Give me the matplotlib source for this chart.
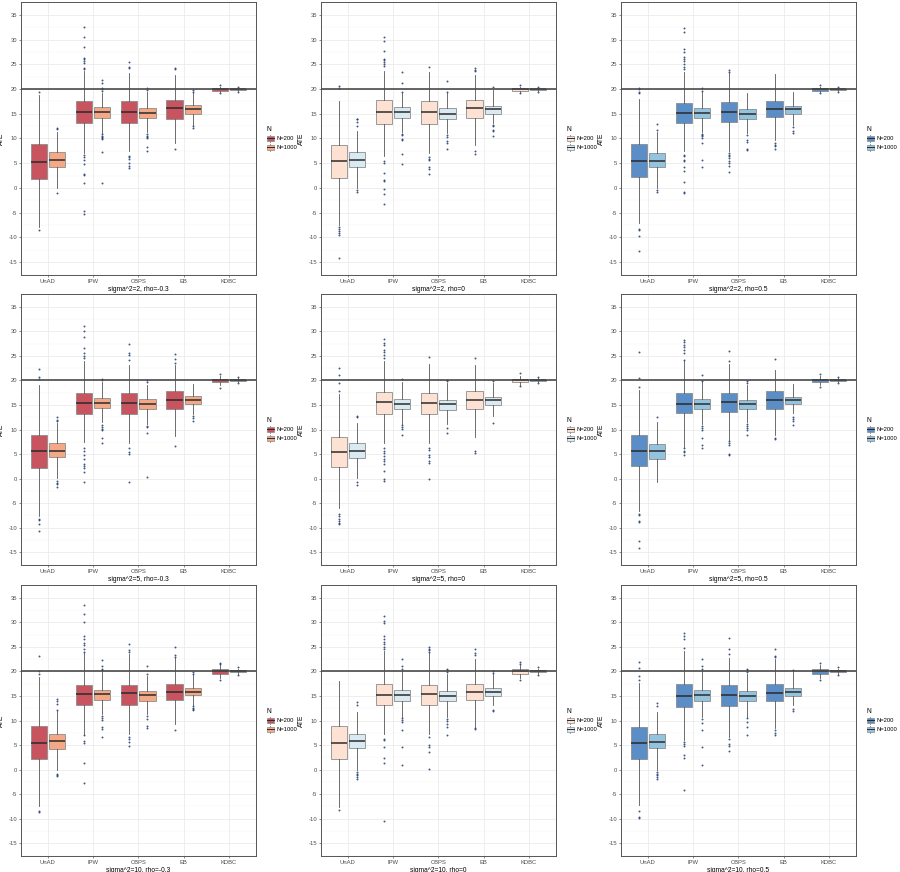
import matplotlib
matplotlib.use("Agg")
import matplotlib.pyplot as plt
from matplotlib.legend_handler import HandlerBase
from matplotlib.patches import Rectangle
from matplotlib.lines import Line2D

plt.rcParams['font.family'] = ['Liberation Sans', 'DejaVu Sans']
plt.rcParams['axes.unicode_minus'] = False

METHODS = ["UnAD", "IPW", "CBPS", "EB", "KDBC"]
GROUPS = ["N=200", "N=1000"]
TITLES = ["sigma^2=2, rho=-0.3", "sigma^2=2, rho=0", "sigma^2=2, rho=0.5",
          "sigma^2=5, rho=-0.3", "sigma^2=5, rho=0", "sigma^2=5, rho=0.5",
          "sigma^2=10, rho=-0.3", "sigma^2=10, rho=0", "sigma^2=10, rho=0.5"]
Y_TICKS = [-15, -10, -5, 0, 5, 10, 15, 20, 25, 30, 35]
TRUE_ATE = 20

# ---- N=200 box statistics, [panel][method] ----
Q1_200 = [[1.85, 13.2, 13.2, 14.0, 19.7], [2.1, 13.0, 13.0, 14.1, 19.7], [2.3, 13.2, 13.3, 14.3, 19.7],
          [2.1, 13.2, 13.2, 14.2, 19.75], [2.4, 13.1, 13.1, 14.1, 19.75], [2.6, 13.3, 13.5, 14.2, 19.7],
          [2.1, 13.2, 13.2, 14.2, 19.5], [2.1, 13.2, 13.2, 14.2, 19.5], [2.2, 12.8, 13.0, 13.9, 19.5]]
MED_200 = [[5.2, 15.3, 15.3, 16.1, 19.95], [5.35, 15.3, 15.3, 16.1, 19.95], [5.5, 15.2, 15.4, 15.9, 19.95],
           [5.65, 15.3, 15.3, 16.0, 20.0], [5.4, 15.5, 15.4, 16.1, 20.0], [5.7, 15.2, 15.5, 16.1, 20.0],
           [5.5, 15.4, 15.5, 15.9, 20.0], [5.5, 15.2, 15.3, 15.9, 20.0], [5.5, 14.9, 15.1, 15.7, 20.0]]
Q3_200 = [[8.8, 17.5, 17.5, 17.8, 20.2], [8.7, 17.7, 17.5, 17.75, 20.2], [8.9, 17.15, 17.3, 17.5, 20.2],
          [8.9, 17.5, 17.5, 17.8, 20.3], [8.5, 17.7, 17.5, 17.8, 20.3], [8.8, 17.4, 17.5, 17.8, 20.3],
          [8.9, 17.3, 17.3, 17.5, 20.4], [8.9, 17.4, 17.3, 17.5, 20.4], [8.6, 17.4, 17.2, 17.5, 20.4]]
LO_200 = [[-7.8, 7.0, 7.4, 9.0, 19.4], [-7.5, 6.4, 7.0, 8.6, 19.4], [-7.1, 7.4, 7.4, 9.7, 19.4],
          [-7.6, 7.5, 7.2, 8.6, 19.0], [-5.9, 7.2, 7.2, 8.4, 19.0], [-6.6, 6.5, 7.9, 8.9, 19.0],
          [-7.5, 7.3, 7.3, 9.3, 18.7], [-7.6, 7.2, 7.2, 8.7, 18.7], [-7.2, 6.0, 6.6, 8.5, 18.7]]
HI_200 = [[18.8, 23.7, 23.3, 22.9, 20.5], [17.5, 23.7, 23.5, 22.9, 20.5], [17.9, 23.5, 23.2, 23.0, 20.5],
          [19.0, 24.0, 23.2, 23.2, 20.9], [17.3, 24.0, 23.4, 23.2, 20.9], [18.1, 24.0, 23.4, 22.1, 20.9],
          [18.8, 23.8, 23.5, 22.8, 21.3], [18.1, 24.2, 23.8, 22.5, 21.3], [17.7, 24.2, 22.8, 22.5, 21.3]]
OUT_200 = [
    [[19.5, -8.6],
     [32.6, 30.5, 28.6, 26.3, 26.0, 25.7, 25.2, 24.3, 24.0, 6.6, 6.3, 5.6, 4.9, 2.9, 2.6, 1.0, -4.6, -5.3],
     [25.5, 24.5, 24.2, 6.5, 6.2, 5.9, 5.0, 4.5, 4.0], [24.1, 24.3, 7.9], [20.8, 19.2]],
    [[20.7, 20.2, -7.8, -8.2, -8.8, -9.2, -9.6, -14.2],
     [30.6, 29.8, 27.7, 26.0, 25.8, 25.4, 25.0, 24.6, 5.4, 5.0, 3.0, 1.7, 1.4, -0.2, -1.3, -3.2],
     [24.5, 6.2, 5.9, 5.6, 4.2, 3.9, 2.9], [24.2, 23.9, 23.6, 7.5, 6.8], [20.8, 19.2]],
    [[20.3, 20.0, 19.5, 19.2, -8.2, -8.5, -9.8, -12.8],
     [32.3, 31.5, 28.0, 27.5, 26.5, 26.0, 25.6, 25.0, 24.5, 24.0, 6.7, 6.4, 5.7, 5.4, 4.3, 3.4, 1.2, -0.8, -1.0],
     [23.8, 23.5, 7.0, 6.7, 6.4, 6.0, 5.5, 5.0, 4.5, 3.3], [9.0, 8.7, 8.4, 7.8], [20.8, 19.2]],
    [[22.3, 20.7, 20.2, -8.3, -8.5, -9.3, -10.7],
     [31.0, 30.0, 28.8, 26.5, 25.5, 25.0, 24.5, 6.3, 5.6, 4.9, 3.9, 3.0, 2.6, 2.2, 1.4, -0.7],
     [27.4, 25.6, 25.2, 24.2, 6.3, 5.4, 5.0, -0.7], [25.3, 24.3, 23.6, 6.7], [21.3, 18.5]],
    [[22.5, 21.2, 19.5, 17.9, -7.3, -7.7, -8.2, -8.6, -9.0, -9.2],
     [28.5, 27.6, 27.2, 26.2, 25.7, 25.2, 24.6, 6.3, 5.7, 5.3, 4.7, 4.0, 3.6, 3.0, 1.6, 0.0, -0.4],
     [24.8, 6.3, 5.8, 4.9, 4.4, 3.5, 3.2, 0.0], [24.5, 5.7, 5.3], [21.5, 18.8]],
    [[25.8, 20.4, 18.7, -7.2, -7.4, -8.6, -8.8, -12.8, -14.2],
     [28.3, 27.8, 27.3, 26.8, 26.2, 25.6, 24.2, 6.2, 5.7, 5.4, 4.9],
     [26.0, 23.9, 7.6, 7.2, 6.9, 5.1, 4.9], [24.3, 8.3, 8.0], [21.3, 18.7]],
    [[23.2, 20.0, 19.5, -8.4, -8.6],
     [33.5, 31.6, 30.0, 27.2, 26.5, 25.7, 25.3, 24.6, 24.0, 7.0, 5.9, 5.5, 1.4, -2.7],
     [25.6, 24.4, 24.0, 6.6, 6.2, 5.6, 4.8], [25.0, 23.3, 23.0, 8.1], [21.8, 21.6, 18.2]],
    [[-8.2],
     [31.2, 30.3, 29.9, 27.2, 26.5, 26.0, 25.5, 25.0, 24.5, 6.3, 6.0, 4.6, 2.3, 1.4, -10.4],
     [24.9, 24.6, 24.3, 24.0, 6.6, 5.0, 4.6, 3.6, 0.1], [24.5, 23.8, 23.4, 8.4, 8.2], [21.9, 21.6, 18.3]],
    [[21.9, 20.6, 19.0, 18.3, -8.4, -9.6, -9.9],
     [27.9, 27.3, 26.6, 24.8, 5.7, 5.2, 4.8, 3.0, 2.3, -4.2],
     [26.8, 24.6, 23.5, 6.2, 5.2, 4.8, 3.8], [24.5, 23.2, 23.0, 8.0, 7.5, 7.0], [21.7, 18.2]],
]

# ---- N=1000 box statistics, [panel][method] ----
Q1_1000 = [[4.2, 14.2, 14.1, 15.0, 19.85], [4.2, 14.2, 14.0, 15.0, 19.85], [4.2, 14.2, 14.0, 15.0, 19.85],
           [4.3, 14.3, 14.2, 15.1, 19.85], [4.1, 14.1, 13.9, 14.9, 19.85], [3.9, 14.2, 14.1, 15.1, 19.85],
           [4.1, 14.2, 14.0, 15.1, 19.8], [4.3, 14.0, 14.0, 15.0, 19.8], [4.3, 14.0, 14.0, 14.9, 19.8]]
MED_1000 = [[5.7, 15.3, 15.1, 15.9, 20.0], [5.7, 15.3, 15.0, 15.9, 20.0], [5.55, 15.2, 14.9, 15.9, 20.0],
            [5.7, 15.4, 15.1, 16.0, 20.0], [5.7, 15.2, 15.1, 16.0, 20.0], [5.6, 15.2, 15.1, 16.0, 20.0],
            [5.75, 15.3, 15.1, 15.9, 20.0], [5.75, 15.2, 15.0, 15.9, 20.0], [5.6, 15.2, 15.0, 15.9, 20.0]]
Q3_1000 = [[7.2, 16.3, 16.1, 16.7, 20.1], [7.2, 16.3, 16.1, 16.6, 20.1], [7.0, 16.1, 16.0, 16.6, 20.1],
           [7.2, 16.4, 16.2, 16.8, 20.15], [7.2, 16.3, 16.1, 16.6, 20.15], [7.1, 16.2, 16.1, 16.6, 20.15],
           [7.2, 16.3, 16.1, 16.6, 20.2], [7.2, 16.3, 16.0, 16.6, 20.2], [7.2, 16.3, 16.0, 16.6, 20.2]]
LO_1000 = [[0.0, 11.2, 11.4, 12.8, 19.6], [0.0, 11.4, 11.1, 13.1, 19.6], [0.0, 11.4, 11.1, 12.8, 19.6],
           [0.1, 11.6, 11.2, 13.1, 19.6], [0.1, 11.2, 11.2, 12.7, 19.6], [-0.7, 11.2, 11.6, 13.3, 19.6],
           [-0.1, 11.4, 11.3, 13.2, 19.5], [0.0, 10.7, 10.7, 13.2, 19.5], [0.0, 10.7, 10.7, 13.2, 19.5]]
HI_1000 = [[11.4, 19.3, 19.5, 19.3, 20.3], [11.5, 19.2, 19.2, 19.8, 20.3], [11.4, 19.5, 19.2, 19.5, 20.3],
           [11.4, 19.7, 19.0, 19.3, 20.4], [11.3, 19.7, 19.4, 19.4, 20.4], [11.6, 19.6, 19.0, 19.2, 20.4],
           [12.0, 19.8, 19.1, 19.3, 20.5], [11.7, 20.1, 19.5, 19.4, 20.5], [11.7, 20.1, 19.5, 19.8, 20.5]]
OUT_1000 = [
    [[12.0, 12.2, -1.0], [21.8, 21.2, 20.3, 20.0, 19.6, 10.9, 10.6, 10.3, 10.0, 9.8, 7.2, 1.0],
     [20.2, 19.9, 10.9, 10.6, 10.3, 10.0, 8.3, 7.5], [19.9, 19.5, 12.5, 12.2], [20.5, 19.5]],
    [[12.5, 13.3, 13.9, 14.0, -0.5, -0.8], [23.4, 21.2, 19.5, 11.0, 10.7, 9.8, 9.6, 6.8, 4.9],
     [21.7, 19.5, 10.8, 10.4, 9.4, 9.1, 7.8], [20.4, 12.8, 12.6, 11.8, 11.6, 10.6], [20.5, 19.5]],
    [[11.8, 12.9, -0.4, -0.8], [19.7, 20.2, 11.0, 10.8, 10.5, 10.1, 9.0, 5.7, 4.3],
     [10.7, 9.7, 9.3, 7.9, 7.6], [12.4, 11.6, 11.2], [20.5, 19.5]],
    [[11.7, 12.0, 12.6, -0.5, -0.8, -1.0, -1.7], [20.3, 20.1, 11.0, 10.6, 10.2, 9.8, 8.3, 7.3],
     [19.6, 20.1, 10.8, 10.5, 9.2, 0.4], [12.8, 12.4, 11.8], [20.6, 19.4]],
    [[12.6, 12.8, -0.7, -1.4], [20.2, 10.9, 10.6, 10.2, 8.9],
     [19.8, 20.1, 10.4, 9.2], [19.8, 11.4], [20.6, 19.4]],
    [[12.5], [19.9, 21.0, 10.8, 10.3, 9.8, 8.3, 6.9, 6.3],
     [19.5, 19.9, 11.2, 10.8, 10.4, 9.9, 8.8], [12.6, 12.2, 11.7, 10.9], [20.6, 19.4]],
    [[12.2, 13.3, 14.0, 14.4, -0.9, -1.2, -1.4], [20.2, 20.5, 21.0, 22.4, 11.0, 10.6, 10.1, 8.6, 8.3, 6.7],
     [19.5, 21.0, 10.9, 10.3, 8.8, 8.4], [19.5, 19.8, 12.9, 12.6, 12.4, 12.1], [20.8, 19.3]],
    [[13.2, 13.8, -0.5, -0.8, -1.2, -1.5, -1.9], [20.5, 21.2, 22.5, 10.5, 10.2, 9.6, 8.0, 4.6, 0.9],
     [19.8, 20.2, 20.5, 10.4, 9.8, 9.3, 8.6, 7.0], [19.7, 20.1, 12.2, 11.9], [20.8, 19.3]],
    [[12.9, 13.6, -0.5, -0.8, -1.2, -1.5, -1.9], [20.5, 21.2, 22.5, 10.3, 9.5, 8.0, 4.6, 0.9],
     [19.8, 20.2, 20.5, 10.5, 9.6, 8.7, 7.0], [20.2, 12.3, 11.9], [20.8, 19.3]],
]

# fill colours per column (rho): (N=200, N=1000)
FILLS = [("#C8545F", "#F4A886"), ("#FDE1D2", "#DAEAF3"), ("#5B8DC7", "#93C3DF")]

EDGE = "#8C8C8C"
WHISK = "#555555"
MEDC = "#2B2B2B"
FLIER = "#1F3B6B"
TICK_FS = 4.2
TITLE_FS = 4.8

W, H = 900, 872
fig = plt.figure(figsize=(W / 100, H / 100), dpi=100)
col_left = [20.7, 320.7, 620.7]
ax_w = 235.3
row_top = [2, 294, 585]
row_bot = [275, 565, 856]


class BoxKey(HandlerBase):
    def __init__(self, fc):
        super().__init__()
        self.fc = fc

    def create_artists(self, legend, orig, xd, yd, width, height, fontsize, trans):
        x0, yb = -xd, -yd
        cx = x0 + width / 2
        bw = width * 0.85
        bh = height * 0.6
        y0 = yb + (height - bh) / 2
        r = Rectangle((cx - bw / 2, y0), bw, bh, facecolor=self.fc,
                      edgecolor=EDGE, linewidth=0.5, transform=trans)
        m = Line2D([cx - bw / 2, cx + bw / 2], [yb + height / 2] * 2, color=MEDC, lw=0.7, transform=trans)
        w1 = Line2D([cx, cx], [yb, y0], color=WHISK, lw=0.5, transform=trans)
        w2 = Line2D([cx, cx], [y0 + bh, yb + height], color=WHISK, lw=0.5, transform=trans)
        return [w1, w2, r, m]


for p in range(9):
    r, c = divmod(p, 3)
    left = col_left[c] / W
    bottom = 1 - row_bot[r] / H
    height = (row_bot[r] - row_top[r]) / H
    ax = fig.add_axes([left, bottom, ax_w / W, height])
    ax.set_xlim(0.4, 5.6)
    ax.set_ylim(-17.6, 37.6)
    ax.set_axisbelow(True)
    # grid
    for yv in Y_TICKS:
        ax.axhline(yv, color="#EBEBEB", lw=0.6, zorder=0)
    for yv in [y + 2.5 for y in Y_TICKS[:-1]] + [-17.5, 37.5]:
        ax.axhline(yv, color="#F5F5F5", lw=0.35, zorder=0)
    for i in range(len(METHODS)):
        ax.axvline(i + 1, color="#EBEBEB", lw=0.6, zorder=0)

    for g, (Q1, MED, Q3, LO, HI, OUT) in enumerate([
            (Q1_200, MED_200, Q3_200, LO_200, HI_200, OUT_200),
            (Q1_1000, MED_1000, Q3_1000, LO_1000, HI_1000, OUT_1000)]):
        stats = []
        for m in range(len(METHODS)):
            stats.append(dict(med=MED[p][m], q1=Q1[p][m], q3=Q3[p][m],
                              whislo=LO[p][m], whishi=HI[p][m], fliers=OUT[p][m]))
        pos = [m + 1 + (-0.2 if g == 0 else 0.2) for m in range(len(METHODS))]
        ax.bxp(stats, positions=pos, widths=0.36, patch_artist=True, showcaps=False,
               manage_ticks=False,
               boxprops=dict(facecolor=FILLS[c][g], edgecolor=EDGE, linewidth=0.6),
               medianprops=dict(color=MEDC, linewidth=1.1),
               whiskerprops=dict(color=WHISK, linewidth=0.6),
               flierprops=dict(marker="o", markersize=1.4, markerfacecolor=FLIER,
                               markeredgecolor="none", alpha=0.85))

    ax.axhline(TRUE_ATE, color="#4A4A4A", lw=1.2, zorder=5)

    ax.set_xticks(range(1, len(METHODS) + 1))
    ax.set_xticklabels(METHODS)
    ax.set_yticks(Y_TICKS)
    ax.set_yticklabels([str(v) for v in Y_TICKS])
    ax.tick_params(axis="both", length=1.5, width=0.4, color="#333333",
                   labelsize=TICK_FS, labelcolor="#4D4D4D", pad=1.2)
    for s in ax.spines.values():
        s.set_color("#555555")
        s.set_linewidth(0.7)
    ax.set_ylabel("ATE", fontsize=TITLE_FS)
    ax.yaxis.set_label_coords(-0.066, 0.5)
    ax.set_xlabel(TITLES[p], fontsize=TITLE_FS, labelpad=1.3)

    handles = [Rectangle((0, 0), 1, 1), Rectangle((0, 0), 1, 1)]
    leg = ax.legend(handles, GROUPS, title="N", loc="center left",
                    bbox_to_anchor=(1.035, 0.5), frameon=False,
                    fontsize=TICK_FS, title_fontsize=TITLE_FS,
                    handler_map={handles[0]: BoxKey(FILLS[c][0]), handles[1]: BoxKey(FILLS[c][1])},
                    handlelength=1.3, handleheight=1.6, handletextpad=0.4, labelspacing=0.3,
                    borderaxespad=0)
    leg._legend_box.align = "left"

fig.savefig("out.png", dpi=100, facecolor="white")
